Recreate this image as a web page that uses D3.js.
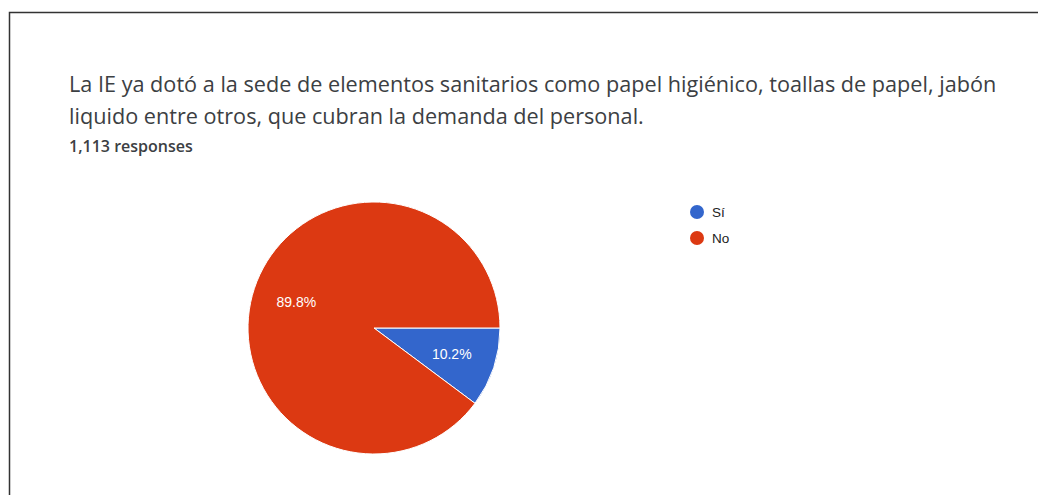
<!DOCTYPE html>
<html><head><meta charset="utf-8">
<script src="https://cdn.jsdelivr.net/npm/d3@7"></script>
<style>body{margin:0;background:#fff;} svg{display:block;}</style>
</head><body>
<svg id="c" width="1038" height="495"></svg>
<script>
const titleLines = ["La IE ya dotó a la sede de elementos sanitarios como papel higiénico, toallas de papel, jabón",
                    "liquido entre otros, que cubran la demanda del personal."];
const subtitle = "1,113 responses";
const categories = ["Sí", "No"];
const values = [10.2, 89.8];
const colors = ["#3366cc", "#dc3912"];

const svg = d3.select("#c");
svg.append("path").attr("d", "M9.5,495 V12.5 H1038").attr("fill","none").attr("stroke","#333").attr("stroke-width",1.5);

const tg = svg.append("g");
titleLines.forEach((t,i)=>{
  tg.append("text").attr("x",69).attr("y",92+i*32).text(t)
    .attr("font-family","'Open Sans', Roboto, sans-serif").attr("font-size",18).attr("fill","#3c4043");
});
const first = tg.select("text").node();
const w = first.getComputedTextLength();
tg.selectAll("text").attr("font-size", 18*928/w);

const st = svg.append("text").attr("x",69).attr("y",152).text(subtitle)
  .attr("font-family","'Open Sans', Roboto, sans-serif").attr("font-size",12).attr("font-weight",600).attr("fill","#3c4043");
const sw = st.node().getComputedTextLength();
st.attr("font-size", 12*124/sw);

const cx = 374, cy = 328, r = 126;
const pie = d3.pie().sort(null).value(d=>d).startAngle(Math.PI/2).endAngle(Math.PI/2+2*Math.PI);
const arcs = pie(values);
const arc = d3.arc().innerRadius(0).outerRadius(r);
const g = svg.append("g").attr("transform",`translate(${cx},${cy})`);
g.selectAll("path").data(arcs).join("path").attr("d",arc)
  .attr("fill",(d,i)=>colors[i]).attr("stroke","#fff").attr("stroke-width",1);
const labelArc = d3.arc().innerRadius(r*0.65).outerRadius(r*0.65);
g.selectAll("text").data(arcs).join("text")
  .attr("transform",d=>`translate(${labelArc.centroid(d)})`)
  .attr("text-anchor","middle").attr("dy","0.35em")
  .attr("font-family","Arial, 'Liberation Sans', sans-serif").attr("font-size",14).attr("fill","#fff")
  .text(d=>d.data.toFixed(1)+"%");

const lg = svg.append("g");
categories.forEach((c,i)=>{
  lg.append("circle").attr("cx",697).attr("cy",212+i*26).attr("r",7).attr("fill",colors[i]);
  lg.append("text").attr("x",712).attr("y",212+i*26).attr("dy","0.35em").text(c)
    .attr("font-family","Arial, 'Liberation Sans', sans-serif").attr("font-size",13.5).attr("fill","#222");
});
</script>
</body></html>
